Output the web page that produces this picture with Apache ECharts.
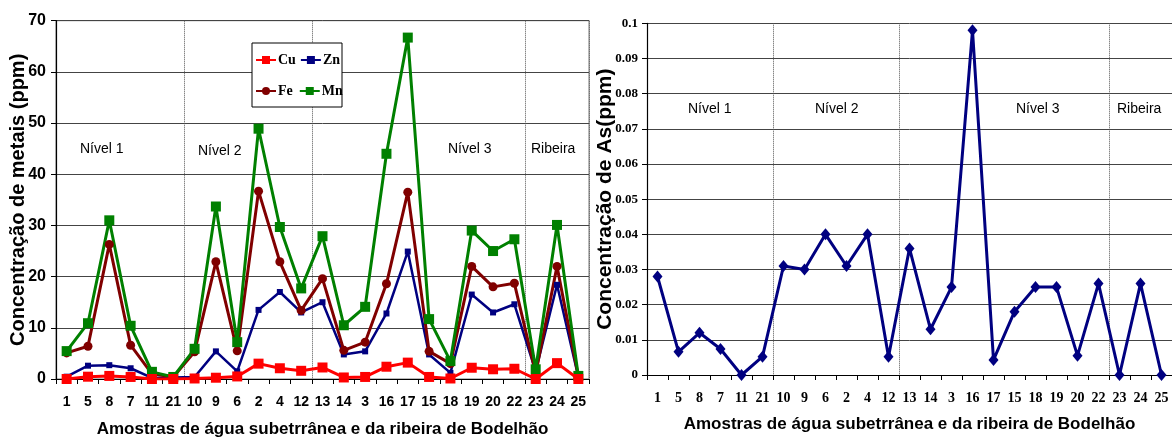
<!DOCTYPE html>
<html>
<head>
<meta charset="utf-8">
<title>Metais e As nas amostras de água</title>
<script src="https://cdn.jsdelivr.net/npm/echarts@6/dist/echarts.min.js"></script>
<style>
  html, body { margin: 0; padding: 0; background: #fff; }
  #chart { width: 1172px; height: 443px; }
</style>
</head>
<body>
<div id="chart"></div>
<script>
// Sample order along the x axis (grouped by level)
const samples = ['1','5','8','7','11','21','10','9','6','2','4','12','13','14','3','16','17','15','18','19','20','22','23','24','25'];

// Metal concentrations (ppm)
const cu = [0, 0.45, 0.6, 0.4, 0, 0, 0.1, 0.25, 0.5, 3.0, 2.1, 1.6, 2.25, 0.3, 0.4, 2.4, 3.2, 0.4, 0.1, 2.2, 1.9, 2.0, 0, 3.1, 0];
const zn = [0.45, 2.6, 2.7, 2.1, 0.2, 0.3, 0.4, 5.4, 1.5, 13.5, 17.0, 13.0, 15.0, 4.8, 5.4, 12.8, 24.9, 4.8, 1.2, 16.5, 13.0, 14.6, 1.5, 18.4, 0.4];
const fe = [5.1, 6.4, 26.3, 6.6, 1.0, 0.4, 5.3, 22.9, 5.5, 36.7, 22.9, 13.4, 19.6, 5.6, 7.2, 18.6, 36.5, 5.4, 3.0, 22.0, 18.0, 18.7, 1.1, 22.0, 0.5];
const mn = [5.45, 10.9, 31.0, 10.4, 1.4, 0.4, 5.9, 33.7, 7.2, 48.9, 29.7, 17.7, 27.9, 10.5, 14.1, 44.0, 66.7, 11.7, 3.5, 29.0, 25.0, 27.3, 1.9, 30.1, 0.6];

// Arsenic concentration (ppm)
const as = [0.028, 0.0066, 0.012, 0.0074, 0, 0.0052, 0.031, 0.030, 0.040, 0.031, 0.040, 0.0052, 0.036, 0.013, 0.025, 0.098, 0.0043, 0.018, 0.025, 0.025, 0.0055, 0.026, 0, 0.026, 0];

// Level boundaries: index of the first sample of each new group
const groupStarts = [6, 12, 22];

// Y axis tick labels
const metalTicks = [0, 10, 20, 30, 40, 50, 60, 70];
const asTicks = ['0', '0.01', '0.02', '0.03', '0.04', '0.05', '0.06', '0.07', '0.08', '0.09', '0.1'];

const xTitle = 'Amostras de água subetrrânea e da ribeira de Bodelhão';
const sans = '"Liberation Sans", Arial, sans-serif';
const serif = '"Liberation Serif", "Times New Roman", serif';

const chart = echarts.init(document.getElementById('chart'), null, { renderer: 'canvas' });

function xAxisFor(gridIndex, labelFont, labelSize, nameGap) {
  return {
    type: 'category',
    gridIndex: gridIndex,
    data: samples,
    boundaryGap: true,
    name: xTitle,
    nameLocation: 'middle',
    nameGap: nameGap,
    nameMoveOverlap: false,
    nameTextStyle: { fontFamily: sans, fontWeight: 'bold', fontSize: 17, color: '#000', verticalAlign: 'top' },
    axisLine: { lineStyle: { color: '#000', width: 1.2 } },
    axisTick: { show: true, interval: 0, length: 5, lineStyle: { color: '#000' } },
    axisLabel: { interval: 0, margin: 16, fontFamily: labelFont, fontWeight: 'bold', fontSize: labelSize, color: '#000' },
    splitLine: {
      show: true,
      interval: function (idx) { return groupStarts.indexOf(idx) >= 0; },
      lineStyle: { type: 'dotted', color: '#555', width: 1 }
    }
  };
}

const option = {
  animation: false,
  backgroundColor: '#fff',
  grid: [
    { left: 56, top: 20.7, width: 533, height: 363.3, show: true, borderColor: '#777', borderWidth: 1, containLabel: false },
    { left: 647, top: 23.3, width: 526, height: 351.7, containLabel: false }
  ],
  xAxis: [
    xAxisFor(0, sans, 14, 42),
    xAxisFor(1, serif, 14, 41)
  ],
  yAxis: [
    {
      type: 'value', gridIndex: 0, min: 0, max: 70, interval: 10,
      name: 'Concentração de metais (ppm)',
      nameLocation: 'middle', nameGap: 28, nameMoveOverlap: false,
      nameTextStyle: { fontFamily: sans, fontWeight: 'bold', fontSize: 20, color: '#000' },
      axisLine: { show: true, lineStyle: { color: '#000', width: 1.2 } },
      axisTick: { show: true, length: 5, lineStyle: { color: '#000' } },
      axisLabel: {
        margin: 10, fontFamily: sans, fontWeight: 'bold', fontSize: 16, color: '#000',
        formatter: function (v) { return metalTicks.indexOf(v) >= 0 ? String(v) : ''; }
      },
      splitLine: { show: true, lineStyle: { color: '#444', width: 1 } }
    },
    {
      type: 'value', gridIndex: 1, min: 0, max: 0.1, interval: 0.01,
      name: 'Concentração de As(ppm)',
      nameLocation: 'middle', nameGap: 31, nameMoveOverlap: false,
      nameTextStyle: { fontFamily: sans, fontWeight: 'bold', fontSize: 21, color: '#000' },
      axisLine: { show: true, lineStyle: { color: '#000', width: 1.2 } },
      axisTick: { show: true, length: 5, lineStyle: { color: '#000' } },
      axisLabel: {
        margin: 9, fontFamily: serif, fontWeight: 'bold', fontSize: 13, color: '#000',
        formatter: function (v) { return asTicks[Math.round(v * 100)]; }
      },
      splitLine: { show: true, lineStyle: { color: '#444', width: 1 } }
    }
  ],
  legend: [
    {
      data: ['Cu', 'Zn'], left: 255, top: 53, orient: 'horizontal',
      itemWidth: 20, itemHeight: 10, itemGap: 4, padding: 0, z: 5,
      textStyle: { fontFamily: serif, fontWeight: 'bold', fontSize: 14, color: '#000', padding: [0, 0, 0, -3] }
    },
    {
      data: ['Fe', 'Mn'], left: 255, top: 84, orient: 'horizontal',
      itemWidth: 20, itemHeight: 10, itemGap: 6, padding: 0, z: 5,
      textStyle: { fontFamily: serif, fontWeight: 'bold', fontSize: 14, color: '#000', padding: [0, 0, 0, -3] }
    }
  ],
  graphic: [
    // legend frame
    { type: 'rect', z: 3, shape: { x: 252, y: 43, width: 90, height: 64 }, style: { fill: '#fff', stroke: '#000', lineWidth: 1 } },
    // group captions, left panel
    { type: 'text', z: 4, left: 80, top: 142, style: { text: 'Nível 1', font: '14px ' + sans, fill: '#000' } },
    { type: 'text', z: 4, left: 198, top: 144, style: { text: 'Nível 2', font: '14px ' + sans, fill: '#000' } },
    { type: 'text', z: 4, left: 448, top: 142, style: { text: 'Nível 3', font: '14px ' + sans, fill: '#000' } },
    { type: 'text', z: 4, left: 531, top: 142, style: { text: 'Ribeira', font: '14px ' + sans, fill: '#000' } },
    // group captions, right panel
    { type: 'text', z: 4, left: 688, top: 102, style: { text: 'Nível 1', font: '14px ' + sans, fill: '#000' } },
    { type: 'text', z: 4, left: 815, top: 102, style: { text: 'Nível 2', font: '14px ' + sans, fill: '#000' } },
    { type: 'text', z: 4, left: 1016, top: 102, style: { text: 'Nível 3', font: '14px ' + sans, fill: '#000' } },
    { type: 'text', z: 4, left: 1117, top: 102, style: { text: 'Ribeira', font: '14px ' + sans, fill: '#000' } }
  ],
  series: [
    {
      name: 'Cu', type: 'line', xAxisIndex: 0, yAxisIndex: 0, data: cu,
      symbol: 'rect', symbolSize: 10, showAllSymbol: true,
      lineStyle: { color: '#ff0000', width: 3 }, itemStyle: { color: '#ff0000' }, z: 3
    },
    {
      name: 'Zn', type: 'line', xAxisIndex: 0, yAxisIndex: 0, data: zn,
      symbol: 'rect', symbolSize: 6, showAllSymbol: true,
      lineStyle: { color: '#000080', width: 2.5 }, itemStyle: { color: '#000080' }, z: 2
    },
    {
      name: 'Fe', type: 'line', xAxisIndex: 0, yAxisIndex: 0, data: fe,
      symbol: 'circle', symbolSize: 9, showAllSymbol: true,
      lineStyle: { color: '#800000', width: 3 }, itemStyle: { color: '#800000' }, z: 2
    },
    {
      name: 'Mn', type: 'line', xAxisIndex: 0, yAxisIndex: 0, data: mn,
      symbol: 'rect', symbolSize: 10, showAllSymbol: true,
      lineStyle: { color: '#008000', width: 3 }, itemStyle: { color: '#008000' }, z: 2
    },
    {
      name: 'As', type: 'line', xAxisIndex: 1, yAxisIndex: 1, data: as,
      symbol: 'diamond', symbolSize: [10, 12], showAllSymbol: true,
      lineStyle: { color: '#000080', width: 3 }, itemStyle: { color: '#000080' }, z: 2
    }
  ]
};

chart.setOption(option);
</script>
</body>
</html>
